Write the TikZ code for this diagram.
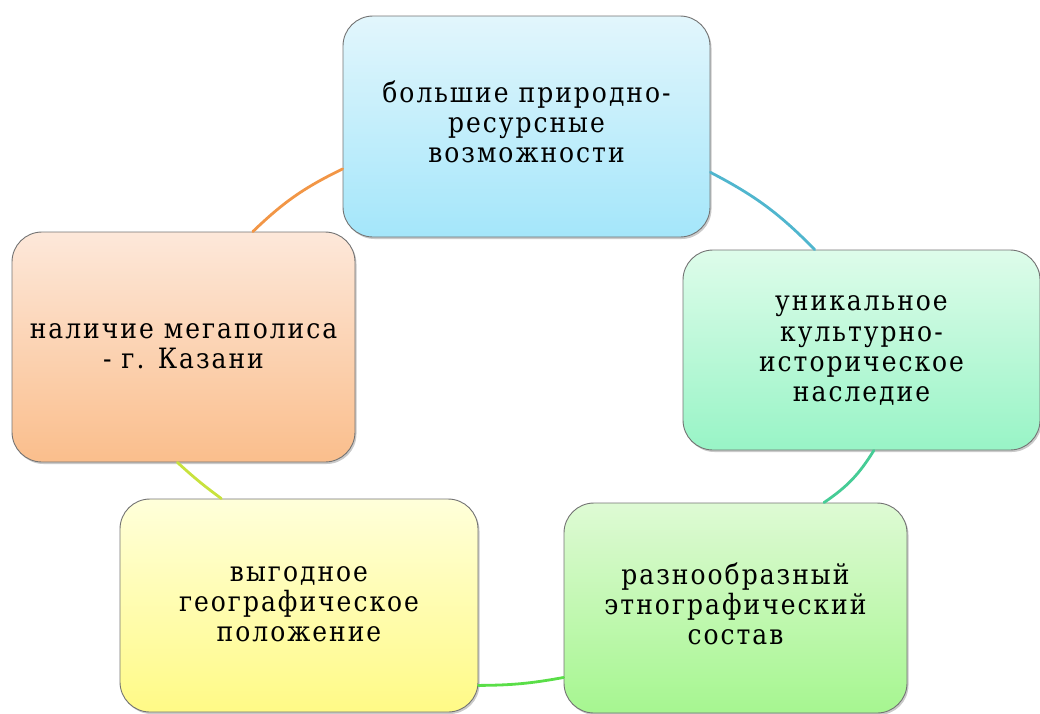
\documentclass[tikz,border=0pt]{standalone}
\usepackage{fontspec}
\usepackage{graphicx}
\newfontfamily\cardfont[LetterSpace=8]{DejaVu Serif}
\usetikzlibrary{shadows}
\newcommand\cardtext[1]{\scalebox{1}[1.12]{\begin{tabular}{@{}c@{}}#1\end{tabular}}}
\definecolor{tT}{RGB}{226,246,252}\definecolor{bT}{RGB}{164,230,250}
\definecolor{tR}{RGB}{222,252,234}\definecolor{bR}{RGB}{152,244,198}
\definecolor{tG}{RGB}{222,250,212}\definecolor{bG}{RGB}{166,246,144}
\definecolor{tY}{RGB}{255,255,218}\definecolor{bY}{RGB}{255,250,134}
\definecolor{tL}{RGB}{253,232,218}\definecolor{bL}{RGB}{250,190,140}
\definecolor{cO}{RGB}{242,150,70}\definecolor{cB}{RGB}{80,182,206}
\definecolor{cTe}{RGB}{70,204,150}\definecolor{cGr}{RGB}{90,222,72}
\definecolor{cYe}{RGB}{200,226,62}
\begin{document}
\begin{tikzpicture}[x=1pt,y=-1pt,
  card/.style={draw=black!55, line width=0.9pt, rounded corners=30pt,
    align=center, inner sep=0pt, font=\cardfont\fontsize{25}{26.8}\selectfont,
    drop shadow={shadow xshift=1.5pt, shadow yshift=-2pt, opacity=0.35, fill=black!60}},
  arcline/.style={line width=2.8pt, line cap=round}]
\useasboundingbox (0,0) rectangle (1040,713);
\node[card, top color=tT, bottom color=bT, minimum width=367pt, minimum height=221pt] (T) at (526.5,126.5)
  {\cardtext{большие природно-\\ресурсные\\возможности}};
\node[card, top color=tR, bottom color=bR, minimum width=357pt, minimum height=200pt] (R) at (861.5,350)
  {\cardtext{уникальное\\культурно-\\историческое\\наследие}};
\node[card, top color=tG, bottom color=bG, minimum width=343pt, minimum height=210pt] (G) at (735.5,608)
  {\cardtext{разнообразный\\этнографический\\состав}};
\node[card, top color=tY, bottom color=bY, minimum width=358pt, minimum height=213pt] (Y) at (299,605.5)
  {\cardtext{выгодное\\географическое\\положение}};
\node[card, top color=tL, bottom color=bL, minimum width=343pt, minimum height=230pt] (L) at (183.5,347)
  {\cardtext{наличие мегаполиса\\- г. Казани}};
\draw[arcline, cO] (L.59.3) to[bend left=9] (T.193.6);
\draw[arcline, cB] (T.346.1) to[bend left=9] (R.115.6);
\draw[arcline, cTe] (R.277.1) to[bend left=12] (G.50.2);
\draw[arcline, cGr] (G.202.1) to[bend left=5] (Y.336.6);
\draw[arcline, cYe] (Y.126.9) to[bend left=3] (L.267.8);
\end{tikzpicture}
\end{document}
